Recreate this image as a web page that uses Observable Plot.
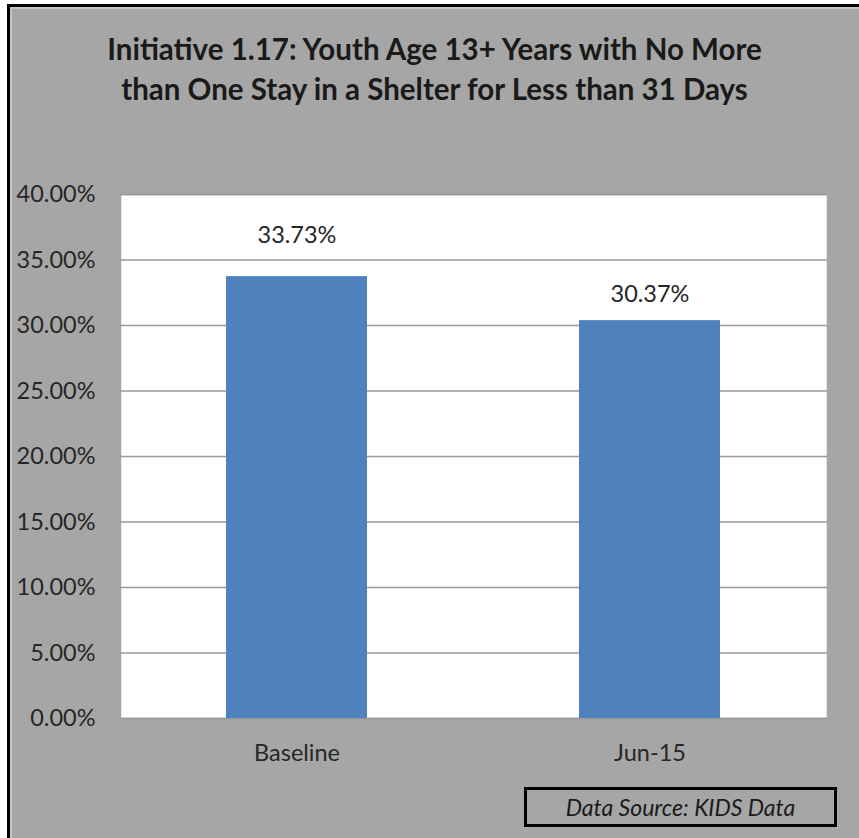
<!DOCTYPE html>
<html>
<head>
<meta charset="utf-8">
<script src="https://cdn.jsdelivr.net/npm/d3@7"></script>
<script src="https://cdn.jsdelivr.net/npm/@observablehq/plot@0.6"></script>
<style>
  html, body { margin: 0; padding: 0; background: #ffffff; overflow: hidden; }
  body { width: 859px; height: 838px; position: relative; font-family: Lato, "Open Sans", sans-serif; }
  #panel {
    position: absolute; left: 7px; top: 4px; width: 870px; height: 850px;
    box-sizing: border-box; background: #a6a6a6;
    border-left: 3px solid #000; border-top: 3px solid #000;
    box-shadow: inset 2px 2px 0 #c4c4c4;
  }
  #title {
    position: absolute; left: 10px; width: 849px; top: 29px;
    text-align: center; font-weight: 700; font-size: 29.5px; line-height: 40px; color: #1a1a1a;
  }
  #plot { position: absolute; left: 0; top: 160px; }
  #source {
    position: absolute; left: 524px; top: 787px; width: 313px; height: 40px;
    box-sizing: border-box; border: 3px solid #000;
    display: flex; align-items: center; justify-content: center;
    font-style: italic; font-size: 23px; color: #1a1a1a;
  }
</style>
</head>
<body>
<div id="panel"></div>
<div id="title">Initiative 1.17: Youth Age 13+ Years with No More<br>than One Stay in a Shelter for Less than 31 Days</div>
<div id="plot"></div>
<div id="source">Data Source: KIDS Data</div>
<script>
// Share of youth (13+) with no more than one shelter stay under 31 days
const categories = ["Baseline", "Jun-15"];
const shares = [0.3373, 0.3037];
const yTicks = [0, 0.05, 0.10, 0.15, 0.20, 0.25, 0.30, 0.35, 0.40];

const data = categories.map((c, i) => ({ period: c, share: shares[i] }));
const pct = d => (d * 100).toFixed(2) + "%";

const chart = Plot.plot({
  width: 859,
  height: 620,
  marginLeft: 120,
  marginRight: 32,
  marginTop: 34,
  marginBottom: 62,
  style: { background: "transparent", fontFamily: "Lato, 'Open Sans', sans-serif", fontSize: "23.5px", color: "#262626" },
  x: { domain: categories, paddingInner: 0.6, paddingOuter: 0.3, label: null },
  y: { domain: [0, 0.4], label: null },
  marks: [
    Plot.frame({ fill: "white", stroke: "#a6a6a6", strokeWidth: 1.5 }),
    Plot.ruleY(yTicks, { stroke: "#999999", strokeWidth: 1.5 }),
    Plot.axisY({ ticks: yTicks, tickFormat: pct, tickSize: 0, tickPadding: 25, fontSize: 23.5, fill: "#262626", label: null }),
    Plot.axisX({ tickSize: 0, tickPadding: 26, fontSize: 23.5, fill: "#262626", label: null }),
    Plot.barY(data, { x: "period", y: "share", fill: "#4f81bd" }),
    Plot.text(data.filter(d => d.period === "Baseline"), { x: "period", y: "share", text: d => pct(d.share), dy: -41, fontSize: 23.5, fill: "#262626" }),
    Plot.text(data.filter(d => d.period === "Jun-15"), { x: "period", y: "share", text: d => pct(d.share), dy: -26, fontSize: 23.5, fill: "#262626" })
  ]
});
document.getElementById("plot").appendChild(chart);
</script>
</body>
</html>
